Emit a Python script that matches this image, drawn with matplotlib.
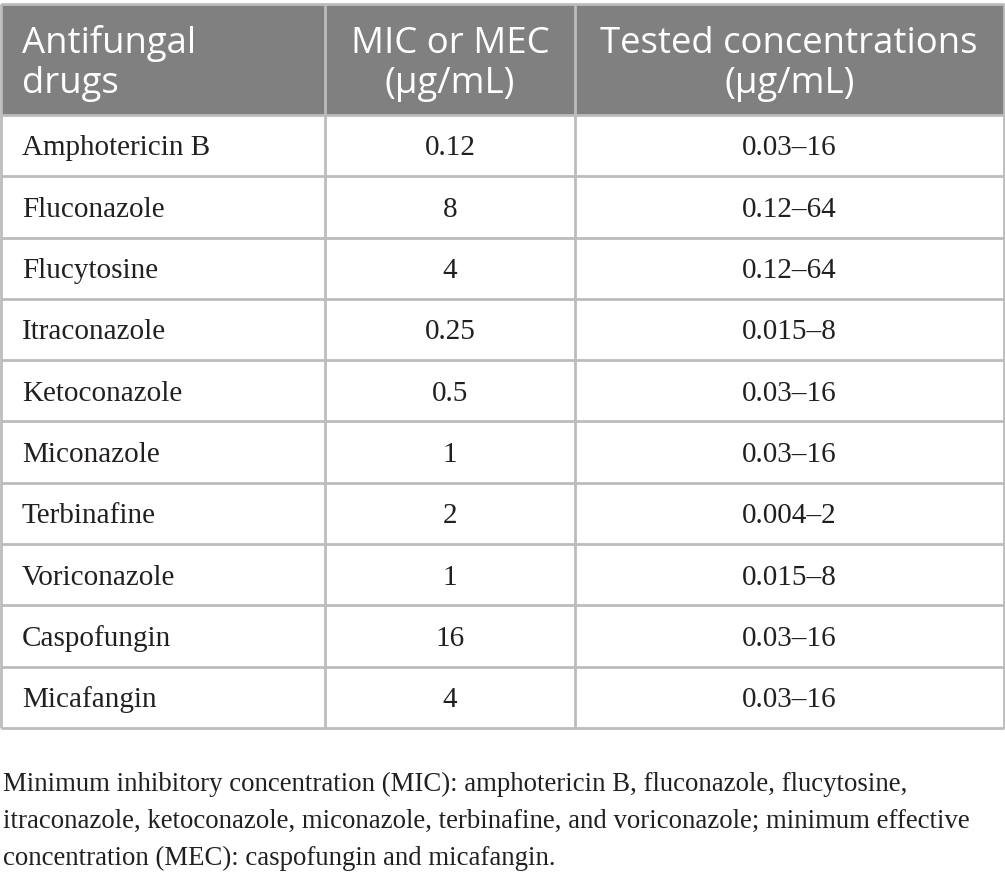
import matplotlib
matplotlib.use("Agg")
import matplotlib.pyplot as plt

# ---- data ----
header_labels = ["Antifungal\ndrugs", "MIC or MEC\n(\u03bcg/mL)", "Tested concentrations\n(\u03bcg/mL)"]
drugs = ["Amphotericin B", "Fluconazole", "Flucytosine", "Itraconazole", "Ketoconazole",
         "Miconazole", "Terbinafine", "Voriconazole", "Caspofungin", "Micafangin"]
mic_mec = ["0.12", "8", "4", "0.25", "0.5", "1", "2", "1", "16", "4"]
tested = ["0.03\u201316", "0.12\u201364", "0.12\u201364", "0.015\u20138", "0.03\u201316",
          "0.03\u201316", "0.004\u20132", "0.015\u20138", "0.03\u201316", "0.03\u201316"]
footnote_lines = [
    "Minimum inhibitory concentration (MIC): amphotericin B, fluconazole, flucytosine,",
    "itraconazole, ketoconazole, miconazole, terbinafine, and voriconazole; minimum effective",
    "concentration (MEC): caspofungin and micafangin.",
]

# ---- layout (pixels) ----
W, H = 1005, 880
col_edges = [1, 325, 575, 1003.5]
top = 4.5
header_bottom = 115
row_h = 61.3
n = len(drugs)
bottom = header_bottom + n * row_h
line_col = "#bcbcbc"
head_bg = "#808080"
text_col = "#231f20"

fig = plt.figure(figsize=(W / 100, H / 100), dpi=100)
ax = fig.add_axes([0, 0, 1, 1])
ax.set_xlim(0, W)
ax.set_ylim(H, 0)
ax.axis("off")

# header background
ax.add_patch(plt.Rectangle((col_edges[0], top), col_edges[-1] - col_edges[0], header_bottom - top,
                           facecolor=head_bg, edgecolor="none", zorder=1))

# horizontal lines
ys = [top, header_bottom] + [header_bottom + (i + 1) * row_h for i in range(n)]
ax.hlines(ys, col_edges[0], col_edges[-1], colors=line_col, linewidth=2.0, zorder=2)
# vertical lines
ax.vlines(col_edges, top, bottom, colors=line_col, linewidth=2.0, zorder=2)

# header text
head_font = dict(family="Open Sans", fontsize=26.3, color="white")
for j, lab in enumerate(header_labels):
    lines = lab.split("\n")
    for k, ln in enumerate(lines):
        yb = 53 + 40 * k
        if j == 0:
            ax.text(22, yb, ln, ha="left", va="baseline", zorder=3, **head_font)
        else:
            xc = (col_edges[j] + col_edges[j + 1]) / 2
            ax.text(xc, yb, ln, ha="center", va="baseline", zorder=3, **head_font)

# body text
body_font = dict(family="Liberation Serif", fontsize=21, color=text_col)
xc2 = (col_edges[1] + col_edges[2]) / 2
xc3 = (col_edges[2] + col_edges[3]) / 2
for i in range(n):
    yb = header_bottom + i * row_h + row_h / 2 + 9.8
    ax.text(22, yb, drugs[i], ha="left", va="baseline", zorder=3, **body_font)
    ax.text(xc2, yb, mic_mec[i], ha="center", va="baseline", zorder=3, **body_font)
    ax.text(xc3, yb, tested[i], ha="center", va="baseline", zorder=3, **body_font)

# footnote
foot_font = dict(family="Liberation Serif", fontsize=19.25, color=text_col)
for k, ln in enumerate(footnote_lines):
    ax.text(3, 791 + 37 * k, ln, ha="left", va="baseline", zorder=3, **foot_font)

fig.savefig("out.png", dpi=100, facecolor="white")
